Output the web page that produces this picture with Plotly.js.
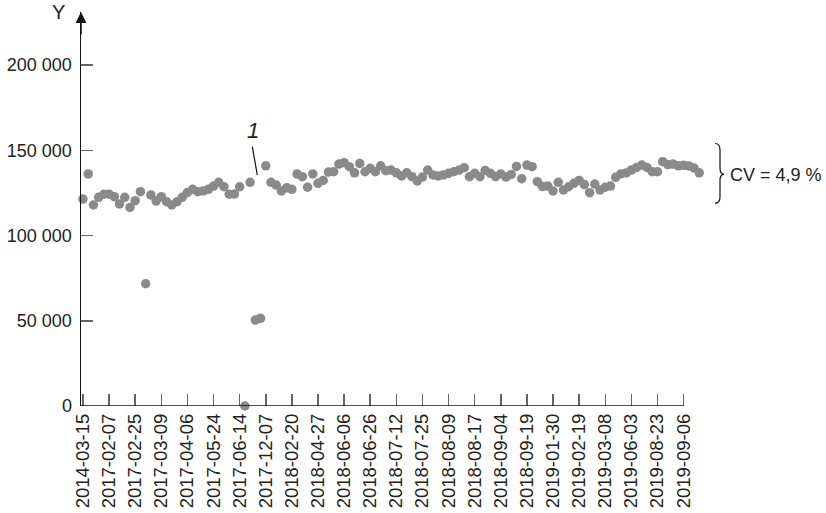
<!DOCTYPE html>
<html>
<head>
<meta charset="utf-8">
<script src="https://cdn.plot.ly/plotly-3.0.1.min.js"></script>
<style>html,body{margin:0;padding:0;background:#fff;}#chart{width:826px;height:513px;}</style>
</head>
<body>
<div id="chart"></div>
<script>
// Tick labels (every 5th observation)
var tickLabels = ["2014-03-15","2017-02-07","2017-02-25","2017-03-09","2017-04-06","2017-05-24",
  "2017-06-14","2017-12-07","2018-02-20","2018-04-27","2018-06-06","2018-06-26","2018-07-12",
  "2018-07-25","2018-08-09","2018-08-17","2018-09-04","2018-09-19","2019-01-30","2019-02-19",
  "2019-03-08","2019-06-03","2019-08-23","2019-09-06"];
var labelStep = 5;

// Series values (Y), one per observation
var yValues = [
  121400,136100,117900,122400,124200,124200,122800,118500,122400,116500,
  120400,125700,71700,123800,120200,122800,119800,117900,119800,122400,
  125300,127100,125700,126100,127100,129000,131200,128600,124200,124300,
  128600,0,131200,50400,51400,140900,131200,129600,126100,128000,
  127100,136100,134500,128300,136100,130600,132300,137200,137400,141900,
  142700,140400,136800,142300,137400,139400,137400,140900,138000,138400,
  136800,134900,136800,134500,132000,134300,138400,135500,134900,135500,
  136500,137400,138400,139800,134500,136500,134500,138100,136500,134600,
  136100,134300,135800,140500,133300,141300,140400,131600,128700,129000,
  126100,131200,126700,128600,130600,132300,129900,125100,130200,126700,
  128300,129000,134100,136100,136700,138400,139900,141300,139900,137400,
  137400,143300,141600,141900,140900,141200,140800,139600,136800
];

var yTickVals = [0,50000,100000,150000,200000];
var yTickText = ["0","50 000","100 000","150 000","200 000"];
var cvText = "CV = 4,9 %";
var outlierLabel = "1";

var xIdx = yValues.map(function(_, i){ return i; });
var tickVals = tickLabels.map(function(_, k){ return k * labelStep; });

// pixel -> paper helpers for decorations
var L = 81, R = 705, T = 12, B = 406;
function px(x){ return (x - L) / (R - L); }
function py(y){ return (B - y) / (B - T); }

var bracePts = [[715,143.5],[720,143.5],[720,150],[720,168],[720,174.3],[724,174.3],[720,174.3],[720,180.5],[720,197],[720,203.3],[715,203.3]];
function P(i){ return px(bracePts[i][0]).toFixed(5) + "," + py(bracePts[i][1]).toFixed(5); }
var bracePath = "M" + P(0) + " Q" + P(1) + " " + P(2) + " L" + P(3) + " Q" + P(4) + " " + P(5) +
  " Q" + P(6) + " " + P(7) + " L" + P(8) + " Q" + P(9) + " " + P(10);

var font = "Arial, 'Liberation Sans', Helvetica, sans-serif";
var xRange = [-0.38, 119.1];

var trace = {
  x: xIdx, y: yValues, type: "scatter", mode: "markers",
  marker: {color: "#8a8a8a", size: 9.5, line: {width: 0}},
  cliponaxis: false, hoverinfo: "skip", showlegend: false
};

var layout = {
  width: 826, height: 513,
  margin: {l: L, r: 826 - R, t: T, b: 513 - B, pad: 0},
  paper_bgcolor: "#fff", plot_bgcolor: "#fff",
  font: {family: font, color: "#222", size: 18},
  xaxis: {
    range: xRange, showgrid: false, zeroline: false, showline: false,
    ticks: "inside", ticklen: 12, tickwidth: 1.5, tickcolor: "#666",
    tickmode: "array", tickvals: tickVals, ticktext: tickLabels,
    tickangle: -90, tickfont: {family: font, size: 18.5, color: "#222"}, ticklabelstandoff: 3
  },
  yaxis: {
    range: [0, 231100], showgrid: false, zeroline: false,
    showline: true, linecolor: "#111", linewidth: 1.5,
    ticks: "inside", ticklen: 12, tickwidth: 1.5, tickcolor: "#666",
    tickmode: "array", tickvals: yTickVals, ticktext: yTickText,
    tickfont: {family: font, size: 18, color: "#222"}, ticklabelstandoff: 4
  },
  shapes: [
    {type: "line", xref: "x", yref: "y", x0: xRange[0], x1: 115, y0: 0, y1: 0,
     line: {color: "#111", width: 1.5}},
    {type: "line", xref: "paper", yref: "paper", x0: px(252.3), y0: py(146.7), x1: px(257.3), y1: py(175),
     line: {color: "#111", width: 1.2}},
    {type: "path", xref: "paper", yref: "paper", path: bracePath,
     line: {color: "#111", width: 1.2}}
  ],
  annotations: [
    {xref: "paper", yref: "paper", x: 0, y: 1, text: "", showarrow: true,
     ax: 0, ay: 24, arrowhead: 2, arrowsize: 1.45, arrowwidth: 1.5, arrowcolor: "#111", standoff: 0},
    {xref: "paper", yref: "paper", x: px(58), y: py(12), text: "Y", showarrow: false,
     xanchor: "center", yanchor: "middle", font: {family: font, size: 20, color: "#222"}},
    {xref: "paper", yref: "paper", x: px(253), y: py(130), text: "<i>" + outlierLabel + "</i>", showarrow: false,
     xanchor: "center", yanchor: "middle", font: {family: font, size: 22, color: "#222"}},
    {xref: "paper", yref: "paper", x: px(728), y: py(175), text: cvText, showarrow: false,
     xanchor: "left", yanchor: "middle", font: {family: font, size: 18, color: "#222"}}
  ]
};

Plotly.newPlot("chart", [trace], layout, {staticPlot: true, displayModeBar: false});
</script>
</body>
</html>
